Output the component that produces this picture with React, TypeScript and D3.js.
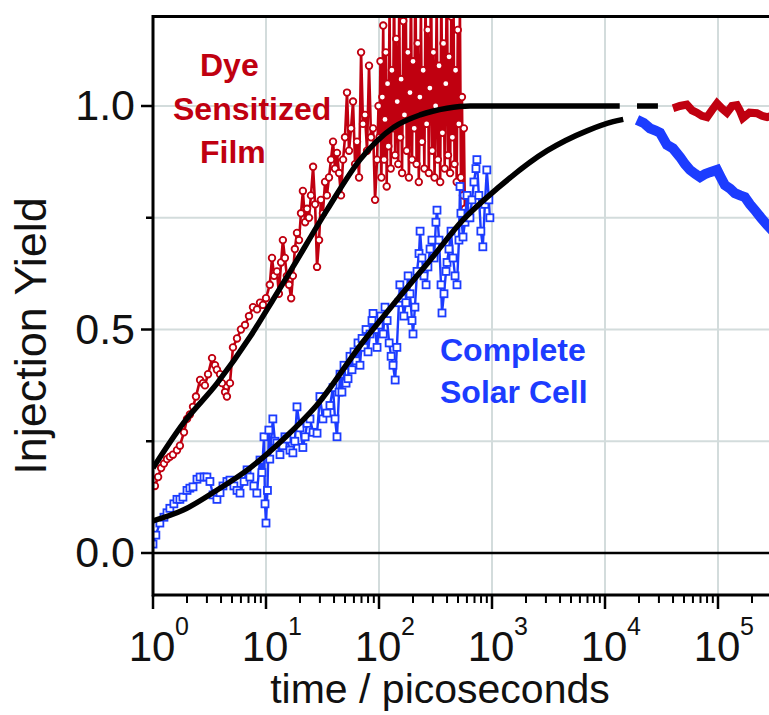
import React from 'react';
import * as d3 from 'd3';

const W = 769;
const H = 715;

const yMajorTicks = [0.0, 0.5, 1.0];
const yMinorTicks = [0.25, 0.75];
const yGrid = [0.25, 0.5, 0.75, 1.0];
const xDecades = [0, 1, 2, 3, 4, 5];

// Dye sensitized film (red circles): [time ps, yield]
const redFilm: [number, number][] = [
  [1.04, 0.15], [1.11, 0.17], [1.18, 0.19], [1.25, 0.2], [1.33, 0.21], [1.41, 0.215], [1.5, 0.22],
  [1.63, 0.23], [1.73, 0.24], [1.88, 0.27], [2.0, 0.3], [2.12, 0.31], [2.26, 0.327], [2.4, 0.35],
  [2.61, 0.387], [2.77, 0.38], [2.88, 0.375], [3.07, 0.4], [3.33, 0.436], [3.54, 0.42], [3.68, 0.41],
  [3.92, 0.4], [4.08, 0.38], [4.34, 0.36], [4.51, 0.35], [4.8, 0.38], [5.1, 0.46], [5.54, 0.48],
  [6.0, 0.5], [6.52, 0.51], [7.07, 0.53], [7.67, 0.55], [8.33, 0.545], [8.85, 0.56], [9.4, 0.555],
  [10.0, 0.57], [10.8, 0.6], [11.3, 0.66], [11.8, 0.62], [12.5, 0.63], [13.0, 0.58], [13.6, 0.65],
  [14.1, 0.7], [14.7, 0.66], [15.3, 0.62], [16.0, 0.6], [16.7, 0.57], [17.3, 0.62], [18.0, 0.68],
  [18.8, 0.716], [19.6, 0.7], [20.4, 0.76], [21.2, 0.81], [22.2, 0.74], [23.1, 0.77], [24.0, 0.75],
  [25.0, 0.8], [26.1, 0.864], [27.2, 0.78], [28.3, 0.64], [29.5, 0.7], [30.6, 0.79], [31.9, 0.76],
  [33.3, 0.83], [34.6, 0.8], [36.1, 0.84], [37.6, 0.88], [39.2, 0.92], [40.8, 0.86], [42.5, 0.895],
  [44.3, 0.85], [46.1, 0.8], [48.1, 0.88], [50.0, 0.93], [52.1, 1.03], [54.3, 0.9], [56.6, 0.95],
  [58.9, 1.01], [61.4, 0.87], [63.9, 0.92], [66.6, 0.84], [69.4, 1.12], [72.2, 0.96], [75.2, 0.98],
  [78.4, 0.9], [81.6, 1.09], [85.0, 0.93], [88.6, 0.95], [92.3, 0.79], [96.1, 0.88], [99, 1.0],
  [101, 0.93], [103, 1.1], [105, 0.84], [107, 1.02], [109, 1.18], [111, 0.88], [113, 0.97],
  [115, 1.12], [117, 0.82], [119, 1.05], [121, 0.91], [124, 1.22], [127, 0.86], [130, 1.08],
  [133, 0.95], [136, 1.28], [139, 0.89], [142, 1.15], [145, 1.01], [148, 0.87], [151, 1.24],
  [154, 0.93], [157, 1.06], [160, 0.85], [164, 1.19], [168, 0.98], [172, 1.3], [176, 0.9],
  [180, 1.12], [184, 0.84], [188, 1.03], [192, 1.26], [196, 0.88], [200, 1.1], [205, 0.95],
  [210, 1.33], [215, 0.87], [220, 1.14], [225, 0.83], [230, 1.02], [235, 1.21], [240, 0.92],
  [246, 1.08], [252, 0.86], [258, 1.25], [264, 0.96], [270, 1.17], [276, 0.85], [282, 1.04],
  [289, 1.29], [296, 0.9], [303, 1.12], [310, 0.84], [317, 1.0], [324, 1.23], [332, 0.88],
  [340, 1.09], [348, 0.83], [356, 1.27], [364, 0.94], [372, 1.14], [381, 0.86], [390, 1.05],
  [399, 1.31], [408, 0.89], [417, 1.11], [426, 0.85], [436, 1.2], [446, 0.93], [456, 1.26],
  [466, 0.87], [476, 1.08], [487, 0.83], [498, 1.17], [509, 0.96], [520, 1.22], [531, 0.84],
  [542, 1.02], [553, 0.8], [564, 0.95], [575, 0.77],
];

// Complete solar cell (blue squares): [time ps, yield]
const blueCell: [number, number][] = [
  [1.0, 0.02], [1.06, 0.04], [1.15, 0.067], [1.25, 0.08], [1.33, 0.09], [1.41, 0.1], [1.53, 0.11],
  [1.63, 0.12], [1.73, 0.12], [1.84, 0.125], [2.0, 0.14], [2.12, 0.145], [2.26, 0.148], [2.45, 0.165],
  [2.61, 0.17], [2.83, 0.17], [3.0, 0.17], [3.19, 0.16], [3.4, 0.13], [3.68, 0.12], [3.92, 0.135],
  [4.16, 0.15], [4.51, 0.16], [4.8, 0.163], [5.2, 0.15], [5.54, 0.14], [5.89, 0.134], [6.4, 0.16],
  [6.8, 0.186], [7.2, 0.17], [7.8, 0.15], [8.3, 0.134], [8.85, 0.208], [9.2, 0.18], [9.6, 0.26],
  [9.8, 0.11], [10.0, 0.067], [10.3, 0.14], [10.6, 0.275], [10.8, 0.21], [11.5, 0.3], [12.0, 0.25],
  [12.5, 0.246], [13.3, 0.22], [14.1, 0.24], [14.7, 0.26], [15.3, 0.255], [16.3, 0.23], [17.3, 0.224],
  [18.0, 0.25], [18.8, 0.327], [20.0, 0.28], [21.2, 0.236], [22.2, 0.26], [23.1, 0.29], [24.5, 0.3],
  [26.1, 0.27], [28.3, 0.268], [30.0, 0.35], [31.9, 0.3], [34.6, 0.313], [36.8, 0.33], [39.2, 0.37],
  [40.8, 0.3], [42.5, 0.26], [44.3, 0.36], [45.2, 0.4], [47.0, 0.36], [49.0, 0.42], [51.1, 0.38],
  [53.2, 0.39], [55.4, 0.44], [57.7, 0.41], [60.1, 0.45], [62.6, 0.43], [65.2, 0.47], [67.9, 0.42],
  [70.8, 0.48], [73.7, 0.46], [76.8, 0.5], [80.0, 0.45], [83.2, 0.49], [86.7, 0.52], [88.6, 0.536],
  [92.3, 0.5], [96.1, 0.46], [100, 0.51], [104, 0.53], [109, 0.49], [113, 0.55], [118, 0.52],
  [123, 0.47], [128, 0.44], [133, 0.42], [139, 0.387], [144, 0.46], [150, 0.56], [153, 0.6],
  [160, 0.57], [166, 0.53], [173, 0.56], [181, 0.62], [188, 0.58], [196, 0.52], [200, 0.49],
  [208, 0.55], [217, 0.63], [226, 0.67], [231, 0.72], [240, 0.66], [250, 0.62], [261, 0.6],
  [271, 0.64], [283, 0.68], [294, 0.7], [307, 0.66], [319, 0.74], [326, 0.767], [340, 0.7],
  [354, 0.6], [361, 0.537], [376, 0.58], [392, 0.63], [400, 0.65], [416, 0.68], [434, 0.72],
  [452, 0.66], [471, 0.62], [490, 0.6], [510, 0.7], [521, 0.82], [531, 0.76], [554, 0.707],
  [577, 0.74], [601, 0.8], [626, 0.75], [638, 0.75], [665, 0.79], [692, 0.83], [721, 0.86],
  [735, 0.88], [765, 0.8], [797, 0.72], [830, 0.685], [865, 0.78], [900, 0.857], [938, 0.79],
  [958, 0.75],
];

// Fits (black)
const redFit: [number, number][] = [
  [1, 0.19], [1.85, 0.29], [3.7, 0.38], [7.2, 0.483], [11.5, 0.566], [17.3, 0.64], [34.6, 0.767],
  [68, 0.88], [136, 0.953], [231, 0.98], [400, 0.995], [640, 1.0], [13500, 1.0],
];
const blueFit: [number, number][] = [
  [1, 0.072], [1.85, 0.096], [3.7, 0.141], [7.2, 0.19], [14, 0.253], [28, 0.33],
  [72, 0.472], [144, 0.566], [283, 0.655], [554, 0.745], [1107, 0.815], [3080, 0.9], [7000, 0.945],
  [11800, 0.965], [14500, 0.97],
];
const fitDash: [number, number][] = [[19200, 1.0], [29400, 1.0]];

// Long-time data (dense, drawn as thick traces)
const redLate: [number, number][] = [
  [40000, 0.995], [46000, 1.0], [53000, 1.003], [59000, 0.99], [65000, 0.985], [72000, 0.978],
  [80000, 0.975], [88000, 0.99], [98000, 1.006], [108000, 0.995], [120000, 0.985], [133000, 1.0],
  [147000, 1.002], [156000, 0.99], [166000, 0.973], [190000, 0.985], [221000, 0.984],
  [245000, 0.978], [272000, 0.975], [320000, 0.98],
];
const blueLate: [number, number][] = [
  [19200, 0.969], [22000, 0.962], [25000, 0.95], [28000, 0.945], [30700, 0.94], [35300, 0.913],
  [40000, 0.905], [46100, 0.886], [51000, 0.87], [56500, 0.857], [63000, 0.848], [69300, 0.841],
  [77000, 0.848], [85000, 0.852], [98000, 0.857], [106000, 0.84], [115000, 0.823], [128000, 0.815],
  [141000, 0.805], [157000, 0.8], [173000, 0.796], [192000, 0.78], [212000, 0.767], [240000, 0.75],
  [272000, 0.734], [320000, 0.715],
];

const RED = '#c00010';
const BLUE = '#1c3cff';
const GRID = '#d3dcdc';
const FONT = '"Liberation Sans", Arial, sans-serif';

export default function App() {
  const x = d3.scaleLog().domain([1, 1e5]).range([153, 718]);
  const y = d3.scaleLinear().domain([0, 1]).range([553, 106]);
  const top = y(1.2);
  const bottom = 595;
  const left = 153;
  const right = W;

  const line = d3.line<[number, number]>().x(d => x(d[0])).y(d => y(d[1]));
  const smooth = d3.line<[number, number]>().x(d => x(d[0])).y(d => y(d[1])).curve(d3.curveMonotoneX);

  const minorX: number[] = [];
  xDecades.forEach(dec => {
    for (let k = 2; k <= 9; k++) {
      const v = k * Math.pow(10, dec);
      if (x(v) < right) minorX.push(v);
    }
  });

  return (
    <svg width={W} height={H} style={{ position: 'absolute', left: 0, top: 0, background: '#fff' }} fontFamily={FONT}>
      <defs>
        <clipPath id="plot">
          <rect x={left} y={top} width={right - left} height={bottom - top} />
        </clipPath>
      </defs>
      <rect x={0} y={0} width={W} height={H} fill="#fff" />
      {/* grid */}
      {xDecades.slice(1).map(d => (
        <line key={'gx' + d} x1={x(Math.pow(10, d))} x2={x(Math.pow(10, d))} y1={top} y2={bottom} stroke={GRID} strokeWidth={2} />
      ))}
      {yGrid.map(v => (
        <line key={'gy' + v} x1={left} x2={right} y1={y(v)} y2={y(v)} stroke={GRID} strokeWidth={2} />
      ))}
      {/* zero line */}
      <line x1={left} x2={right} y1={y(0)} y2={y(0)} stroke="#000" strokeWidth={2.5} />

      <g clipPath="url(#plot)">
        {/* red data */}
        <path d={line(redFilm) || ''} fill="none" stroke={RED} strokeWidth={2.6} />
        {redFilm.map((d, i) => (
          <circle key={'r' + i} cx={x(d[0])} cy={y(d[1])} r={3.3} fill="#fff" stroke={RED} strokeWidth={1.8} />
        ))}
        {/* blue data */}
        <path d={line(blueCell) || ''} fill="none" stroke={BLUE} strokeWidth={2.4} />
        {blueCell.map((d, i) => (
          <rect key={'b' + i} x={x(d[0]) - 3.5} y={y(d[1]) - 3.5} width={7} height={7} fill="#fff" stroke={BLUE} strokeWidth={1.8} />
        ))}
        {/* fits */}
        <path d={smooth(redFit) || ''} fill="none" stroke="#000" strokeWidth={5.5} strokeLinecap="butt" />
        <path d={smooth(blueFit) || ''} fill="none" stroke="#000" strokeWidth={5.5} strokeLinecap="butt" />
        <path d={line(fitDash) || ''} fill="none" stroke="#000" strokeWidth={5.5} />
        {/* long-time traces */}
        <path d={line(redLate) || ''} fill="none" stroke={RED} strokeWidth={8} strokeLinejoin="miter" />
        <path d={line(blueLate) || ''} fill="none" stroke={BLUE} strokeWidth={10} strokeLinejoin="miter" />
      </g>

      {/* frame */}
      <line x1={left} x2={right} y1={top} y2={top} stroke="#000" strokeWidth={3} />
      <line x1={left} x2={right} y1={bottom} y2={bottom} stroke="#000" strokeWidth={3} />
      <line x1={left} x2={left} y1={top - 1.5} y2={bottom + 1.5} stroke="#000" strokeWidth={3} />

      {/* y ticks */}
      {yMajorTicks.map(v => (
        <g key={'yt' + v}>
          <line x1={left - 12} x2={left} y1={y(v)} y2={y(v)} stroke="#000" strokeWidth={2.5} />
          <text x={135} y={y(v) + 14} fontSize={43} textAnchor="end" fill="#111">{v.toFixed(1)}</text>
        </g>
      ))}
      {yMinorTicks.map(v => (
        <line key={'ym' + v} x1={left - 7} x2={left} y1={y(v)} y2={y(v)} stroke="#000" strokeWidth={2.5} />
      ))}

      {/* x ticks */}
      {xDecades.map(d => (
        <g key={'xt' + d}>
          <line x1={x(Math.pow(10, d))} x2={x(Math.pow(10, d))} y1={bottom} y2={bottom + 14} stroke="#000" strokeWidth={2.5} />
          <text x={x(Math.pow(10, d)) - 1} y={661} fontSize={42} textAnchor="middle" fill="#111">10</text>
          <text x={x(Math.pow(10, d)) + 22} y={635} fontSize={25} textAnchor="start" fill="#111">{d}</text>
        </g>
      ))}
      {minorX.map((v, i) => (
        <line key={'xm' + i} x1={x(v)} x2={x(v)} y1={bottom} y2={bottom + 8} stroke="#000" strokeWidth={2} />
      ))}

      {/* axis titles */}
      <text x={440} y={703} fontSize={41} textAnchor="middle" fill="#111">time / picoseconds</text>
      <text transform="translate(46,336) rotate(-90)" fontSize={45} textAnchor="middle" fill="#111">Injection Yield</text>

      {/* annotations */}
      <g fontSize={32} fontWeight="bold" fill={RED}>
        <text x={200} y={76}>Dye</text>
        <text x={173} y={120}>Sensitized</text>
        <text x={200} y={163}>Film</text>
      </g>
      <g fontSize={32} fontWeight="bold" fill={BLUE}>
        <text x={440} y={361}>Complete</text>
        <text x={440} y={403}>Solar Cell</text>
      </g>
    </svg>
  );
}
